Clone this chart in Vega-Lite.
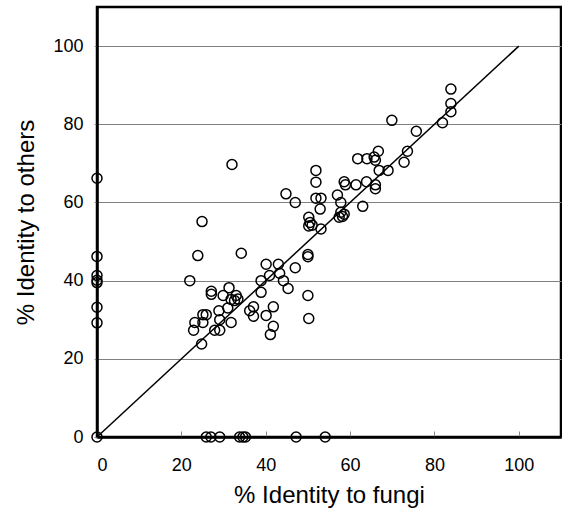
{
  "$schema": "https://vega.github.io/schema/vega-lite/v6.json",
  "width": 464,
  "height": 430,
  "autosize": {"type": "none"},
  "padding": {"left": 97, "top": 7, "right": 1, "bottom": 78},
  "background": "white",
  "config": {
    "view": {"stroke": "black", "strokeWidth": 2.5},
    "font": "Liberation Sans",
    "axis": {
      "labelFont": "Liberation Sans",
      "titleFont": "Liberation Sans",
      "labelColor": "black",
      "titleColor": "black",
      "labelFontSize": 18,
      "titleFontSize": 24,
      "titleFontWeight": "normal",
      "domainColor": "black",
      "domainWidth": 2.5,
      "tickColor": "#888888",
      "gridColor": "#808080",
      "gridWidth": 1,
      "gridOpacity": 1
    }
  },
  "datasets": {
    "pts": [
      {"fungi": 0, "others": 66.2}, {"fungi": 0, "others": 46.2}, {"fungi": 0, "others": 41.3},
      {"fungi": 0, "others": 40.1}, {"fungi": 0, "others": 39.5}, {"fungi": 0, "others": 33.2},
      {"fungi": 0, "others": 29.2}, {"fungi": 0, "others": 0},
      {"fungi": 25.9, "others": 0}, {"fungi": 27.0, "others": 0}, {"fungi": 29.1, "others": 0},
      {"fungi": 33.8, "others": 0}, {"fungi": 34.6, "others": 0}, {"fungi": 35.2, "others": 0},
      {"fungi": 47.2, "others": 0}, {"fungi": 54.1, "others": 0},
      {"fungi": 23.9, "others": 46.4}, {"fungi": 34.2, "others": 47.0}, {"fungi": 22.0, "others": 40.0},
      {"fungi": 40.1, "others": 44.2}, {"fungi": 43.0, "others": 44.2}, {"fungi": 40.9, "others": 41.3},
      {"fungi": 43.3, "others": 41.9}, {"fungi": 38.9, "others": 40.0}, {"fungi": 44.2, "others": 40.0},
      {"fungi": 45.3, "others": 38.0}, {"fungi": 38.9, "others": 37.0}, {"fungi": 27.1, "others": 37.3},
      {"fungi": 27.1, "others": 36.5}, {"fungi": 29.9, "others": 36.2}, {"fungi": 31.3, "others": 38.2},
      {"fungi": 31.8, "others": 35.2}, {"fungi": 33.0, "others": 36.2}, {"fungi": 33.4, "others": 35.3},
      {"fungi": 32.6, "others": 34.9}, {"fungi": 31.0, "others": 33.0}, {"fungi": 28.9, "others": 32.3},
      {"fungi": 25.1, "others": 31.3}, {"fungi": 25.9, "others": 31.3}, {"fungi": 23.2, "others": 29.3},
      {"fungi": 22.9, "others": 27.3}, {"fungi": 25.1, "others": 29.3}, {"fungi": 29.1, "others": 30.0},
      {"fungi": 27.9, "others": 27.3}, {"fungi": 29.1, "others": 27.3}, {"fungi": 31.8, "others": 29.3},
      {"fungi": 24.8, "others": 23.8}, {"fungi": 36.2, "others": 32.3}, {"fungi": 37.1, "others": 33.3},
      {"fungi": 37.1, "others": 30.9}, {"fungi": 40.1, "others": 31.1}, {"fungi": 41.8, "others": 33.3},
      {"fungi": 41.8, "others": 28.3}, {"fungi": 41.1, "others": 26.2}, {"fungi": 50.0, "others": 46.7},
      {"fungi": 50.0, "others": 46.1}, {"fungi": 47.0, "others": 43.3}, {"fungi": 50.0, "others": 36.2},
      {"fungi": 50.2, "others": 30.3}, {"fungi": 32.0, "others": 69.7}, {"fungi": 44.8, "others": 62.2},
      {"fungi": 24.9, "others": 55.1}, {"fungi": 69.9, "others": 81.0}, {"fungi": 61.8, "others": 71.2},
      {"fungi": 64.0, "others": 71.2}, {"fungi": 65.7, "others": 71.6}, {"fungi": 66.7, "others": 73.1},
      {"fungi": 66.0, "others": 70.8}, {"fungi": 73.6, "others": 73.1}, {"fungi": 72.8, "others": 70.3},
      {"fungi": 66.9, "others": 68.2}, {"fungi": 69.0, "others": 68.2}, {"fungi": 51.9, "others": 68.2},
      {"fungi": 51.9, "others": 65.2}, {"fungi": 58.6, "others": 65.3}, {"fungi": 58.9, "others": 64.5},
      {"fungi": 61.4, "others": 64.5}, {"fungi": 63.9, "others": 65.3}, {"fungi": 66.0, "others": 64.5},
      {"fungi": 66.0, "others": 63.5}, {"fungi": 47.0, "others": 60.0}, {"fungi": 51.9, "others": 61.1},
      {"fungi": 53.1, "others": 61.1}, {"fungi": 52.9, "others": 58.3}, {"fungi": 57.0, "others": 61.9},
      {"fungi": 57.8, "others": 60.0}, {"fungi": 63.0, "others": 59.0}, {"fungi": 50.2, "others": 56.2},
      {"fungi": 50.5, "others": 54.9}, {"fungi": 51.0, "others": 54.2}, {"fungi": 50.2, "others": 54.0},
      {"fungi": 53.1, "others": 53.2}, {"fungi": 57.8, "others": 57.5}, {"fungi": 58.2, "others": 56.4},
      {"fungi": 57.4, "others": 56.2}, {"fungi": 58.6, "others": 57.0}, {"fungi": 83.9, "others": 89.0},
      {"fungi": 83.9, "others": 85.3}, {"fungi": 83.9, "others": 83.2}, {"fungi": 81.9, "others": 80.4},
      {"fungi": 75.7, "others": 78.2}
    ],
    "diag": [{"fungi": 0, "others": 0}, {"fungi": 100, "others": 100}]
  },
  "layer": [
    {
      "data": {"name": "diag"},
      "mark": {"type": "line", "color": "black", "strokeWidth": 1.5},
      "encoding": {
        "x": {"field": "fungi", "type": "quantitative", "scale": {"domain": [0, 110], "nice": false, "zero": false},
          "axis": {"title": "% Identity to fungi", "values": [0, 20, 40, 60, 80, 100], "grid": false, "tickSize": -6, "labelPadding": 25, "titlePadding": 9}},
        "y": {"field": "others", "type": "quantitative", "scale": {"domain": [0, 110], "nice": false, "zero": false},
          "axis": {"title": "% Identity to others", "values": [0, 20, 40, 60, 80, 100], "grid": true, "tickSize": 3, "labelPadding": 11, "titlePadding": 14}}
      }
    },
    {
      "data": {"name": "pts"},
      "mark": {"type": "point", "shape": "circle", "filled": false, "stroke": "black", "strokeWidth": 1.5, "size": 100, "opacity": 1},
      "encoding": {
        "x": {"field": "fungi", "type": "quantitative"},
        "y": {"field": "others", "type": "quantitative"}
      }
    }
  ]
}
